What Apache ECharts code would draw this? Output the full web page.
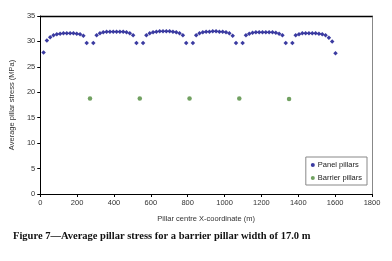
<!DOCTYPE html>
<html><head><meta charset="utf-8">
<script src="https://cdn.jsdelivr.net/npm/echarts@6/dist/echarts.min.js"></script>
<style>html,body{margin:0;padding:0;background:#fff;}#c{width:392px;height:261px;}</style>
</head><body><div id="c"></div>
<script>
// Panel pillar centre x-coordinates (m) and stresses (MPa)
const panelX = [
  18,36,54,72,90,108,126,144,162,180,198,216,234,252,
  288,306,324,342,360,378,396,414,432,450,468,486,504,522,
  558,576,594,612,630,648,666,684,702,720,738,756,774,792,
  828,846,864,882,900,918,936,954,972,990,1008,1026,1044,1062,
  1098,1116,1134,1152,1170,1188,1206,1224,1242,1260,1278,1296,1314,1332,
  1368,1386,1404,1422,1440,1458,1476,1494,1512,1530,1548,1566,1584,1602
];
const panelY = [
  27.8,30.2,30.8,31.2,31.4,31.5,31.6,31.6,31.6,31.6,31.5,31.4,31.1,29.7,
  29.7,31.2,31.6,31.8,31.9,31.9,31.9,31.9,31.9,31.9,31.8,31.6,31.2,29.7,
  29.7,31.2,31.6,31.8,31.9,32.0,32.0,32.0,32.0,31.9,31.8,31.6,31.2,29.7,
  29.7,31.2,31.6,31.8,31.9,31.9,32.0,32.0,31.9,31.9,31.8,31.6,31.1,29.7,
  29.7,31.2,31.5,31.7,31.8,31.8,31.8,31.8,31.8,31.8,31.7,31.5,31.2,29.7,
  29.7,31.2,31.4,31.6,31.6,31.6,31.6,31.6,31.5,31.4,31.2,30.7,30.0,27.7
];
// Barrier pillars
const barrierX = [270, 540, 810, 1080, 1350];
const barrierY = [18.8, 18.8, 18.8, 18.8, 18.7];

const panelData = panelX.map((x,i)=>[x,panelY[i]]);
const barrierData = barrierX.map((x,i)=>[x,barrierY[i]]);

const chart = echarts.init(document.getElementById('c'), null, {renderer:'canvas'});
const lblFont = {fontFamily:'Liberation Sans, Arial, sans-serif', fontSize:7.5, color:'#333'};
chart.setOption({
  animation:false,
  backgroundColor:'#fff',
  grid:{left:37, right:20, top:16, bottom:67},
  title:{
    text:'Figure 7\u2014Average pillar stress for a barrier pillar width of 17.0 m',
    left:8, top:226,
    textStyle:{fontFamily:'Liberation Serif, Times New Roman, serif', fontWeight:'bold', fontSize:10.5, color:'#111'}
  },
  legend:{
    orient:'vertical', right:25, top:157,
    backgroundColor:'#fff',
    borderColor:'#888', borderWidth:1, padding:[4,5,3,5], itemGap:5,
    itemWidth:4, itemHeight:4,
    textStyle:Object.assign({}, lblFont, {fontSize:7.5, color:'#222', padding:[0,0,0,-2]}),
    data:[{name:'Panel pillars', icon:'circle'},{name:'Barrier pillars', icon:'circle'}]
  },
  xAxis:[{
    type:'value', min:0, max:1800, interval:200,
    name:'Pillar centre X-coordinate (m)', nameLocation:'middle', nameGap:21,
    nameTextStyle:Object.assign({}, lblFont, {fontSize:7.5}),
    axisLine:{show:true, lineStyle:{color:'#000', width:1}},
    axisTick:{show:true, inside:false, length:3, lineStyle:{color:'#000'}},
    axisLabel:Object.assign({margin:5, formatter:v=>String(v)}, lblFont),
    splitLine:{show:false}
  },{
    type:'value', min:0, max:1800, position:'top',
    axisLine:{show:true, onZero:false, lineStyle:{color:'#000', width:1.3}},
    axisTick:{show:false}, axisLabel:{show:false}, splitLine:{show:false}
  }],
  yAxis:[{
    type:'value', min:0, max:35, interval:5,
    name:'Average pillar stress (MPa)', nameLocation:'middle', nameGap:24,
    nameTextStyle:Object.assign({}, lblFont, {fontSize:7.5}),
    axisLine:{show:true, lineStyle:{color:'#000', width:1}},
    axisTick:{show:true, inside:false, length:3, lineStyle:{color:'#000'}},
    axisLabel:Object.assign({margin:5, formatter:v=>String(v)}, lblFont),
    splitLine:{show:false}
  },{
    type:'value', min:0, max:35, position:'right',
    axisLine:{show:true, onZero:false, lineStyle:{color:'#888', width:1}},
    axisTick:{show:false}, axisLabel:{show:false}, splitLine:{show:false}
  }],
  series:[{
    name:'Panel pillars', type:'scatter', data:panelData,
    symbol:'diamond', symbolSize:4.5,
    itemStyle:{color:'#0a0a8a'}
  },{
    name:'Barrier pillars', type:'scatter', data:barrierData,
    symbol:'circle', symbolSize:4.5,
    itemStyle:{color:'#4e8a3a'}
  }]
});
</script></body></html>
